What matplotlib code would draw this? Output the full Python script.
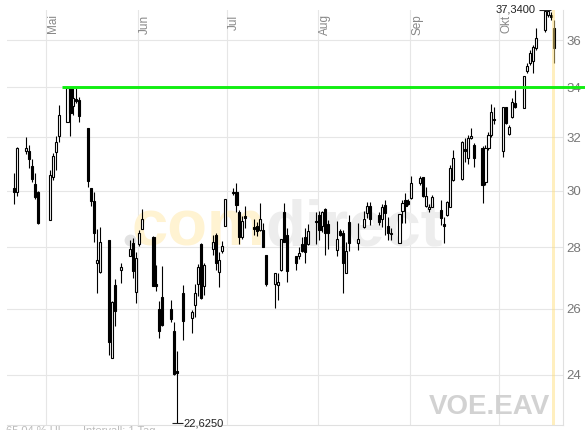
import matplotlib
matplotlib.use('Agg')
import matplotlib.pyplot as plt
import matplotlib.dates as mdates
from matplotlib.ticker import NullLocator
import pandas as pd

plt.rcParams['font.family'] = ['Liberation Sans', 'DejaVu Sans']

# trading days (days without a candle on the chart are skipped)
skip_days = ['2023-05-01', '2023-05-25', '2023-06-05', '2023-06-15', '2023-08-15']
days = pd.bdate_range('2023-04-20', '2023-10-19')
days = days[~days.isin(pd.to_datetime(skip_days))]

opens = [30.09, 29.96, 31.47, 31.47, 30.90, 30.24, 29.96,
         28.96, 30.49, 31.44, 32.06,
         32.58, 33.98, 33.24, 33.52, 33.48,
         32.36, 30.08, 29.61, 27.47, 27.17,
         28.25, 24.49, 26.75, 27.24,
         27.71, 28.14, 26.52, 28.11, 28.62,
         28.36, 26.78, 26.00, 26.37,
         26.00, 25.30, 24.10, 26.48,
         25.72, 26.12, 26.78, 28.11, 26.72,
         27.93, 28.43, 27.18, 27.87, 28.74,
         29.90, 29.96, 29.24, 28.36, 29.08,
         28.69, 28.74, 28.60, 28.60, 27.74,
         26.80, 26.75, 27.24, 29.24, 28.43,
         27.71, 27.71, 28.11, 28.36, 28.11,
         28.90, 29.12, 28.74, 29.32, 28.80,
         27.90, 28.58, 28.49, 27.15, 28.88,
         28.16, 28.69, 29.20, 29.45,
         29.12, 28.97, 29.47, 28.74, 28.46,
         28.15, 29.27, 29.65, 29.63, 29.72,
         30.27, 30.49, 29.45, 29.34, 29.42,
         29.30, 28.79, 29.12, 29.42, 30.39,
         30.42, 31.54, 31.20, 31.98, 31.71,
         31.60, 30.30, 31.60, 32.10, 32.70,
         31.47, 33.19, 32.13, 32.79, 33.35,
         33.17, 34.68, 35.01, 35.08, 35.65,
         36.44, 37.10, 37.10, 36.51]
highs = [30.65, 31.63, 32.00, 31.70, 31.15, 30.64, 29.99,
         30.76, 31.39, 32.03, 33.26,
         34.00, 34.00, 33.98, 33.98, 33.59,
         32.37, 30.10, 29.95, 28.63, 28.69,
         28.27, 26.24, 26.94, 27.46,
         28.25, 28.33, 27.84, 28.60, 29.32,
         28.38, 27.42, 26.24, 27.37,
         26.27, 25.58, 24.69, 26.75,
         25.96, 26.78, 27.45, 28.15, 27.46,
         28.43, 28.51, 27.85, 28.22, 29.70,
         30.08, 30.27, 29.30, 29.10, 29.44,
         28.97, 28.88, 29.56, 28.83, 27.76,
         27.15, 27.13, 28.30, 29.56, 28.67,
         27.72, 28.00, 28.36, 28.66, 28.80,
         29.24, 29.26, 29.27, 29.36, 28.94,
         28.92, 28.63, 28.60, 28.18, 29.12,
         28.83, 29.27, 29.59, 29.59,
         29.24, 29.53, 29.65, 29.06, 28.66,
         29.16, 29.65, 29.90, 29.68, 30.52,
         30.54, 30.50, 30.14, 29.53, 29.84,
         29.65, 29.06, 29.62, 30.94, 31.51,
         31.84, 31.98, 32.10, 32.36, 31.77,
         31.65, 31.70, 32.20, 33.32, 33.20,
         33.20, 33.20, 32.47, 33.56, 33.89,
         34.48, 35.01, 35.57, 35.79, 36.52,
         37.34, 37.33, 37.24, 36.88]
lows = [29.51, 29.80, 31.34, 30.83, 30.30, 29.69, 28.80,
        28.95, 30.39, 30.76, 31.83,
        32.58, 32.05, 32.88, 33.37, 32.58,
        30.14, 29.44, 28.19, 26.49, 27.14,
        24.57, 24.49, 25.46, 26.83,
        27.70, 26.97, 26.19, 28.04, 28.62,
        26.72, 26.56, 25.10, 25.45,
        25.59, 24.00, 22.625, 25.02,
        25.24, 25.75, 26.40, 26.30, 26.43,
        27.74, 27.24, 26.68, 27.80, 28.74,
        29.85, 29.24, 28.12, 28.30, 28.66,
        28.43, 28.40, 28.57, 28.00, 26.72,
        26.01, 26.27, 27.22, 28.18, 26.86,
        27.26, 27.62, 27.84, 27.46, 28.08,
        28.12, 28.25, 28.53, 27.74, 27.96,
        27.71, 28.40, 26.49, 27.14, 27.87,
        27.90, 28.67, 29.00, 28.76,
        28.76, 28.71, 28.43, 28.25, 28.25,
        28.14, 28.84, 28.85, 29.47, 29.69,
        30.20, 29.76, 29.40, 29.24, 29.40,
        28.76, 28.16, 29.08, 29.40, 30.36,
        30.40, 31.05, 30.98, 31.95, 30.88,
        29.56, 30.20, 31.50, 32.00, 32.50,
        31.24, 32.53, 32.10, 32.76, 33.16,
        33.15, 34.58, 34.94, 34.61, 35.57,
        36.37, 37.00, 36.88, 35.01]
closes = [29.95, 31.60, 31.57, 31.16, 30.41, 29.78, 28.85,
          30.57, 31.28, 31.83, 32.89,
          33.96, 32.97, 33.56, 33.45, 32.85,
          30.33, 29.63, 28.49, 27.57, 28.18,
          24.97, 26.22, 25.93, 27.35,
          27.93, 27.22, 27.65, 28.49, 28.97,
          26.73, 26.72, 25.31, 25.48,
          25.66, 24.02, 24.06, 25.61,
          25.89, 26.51, 27.33, 26.34, 27.40,
          28.19, 27.46, 27.57, 28.06, 29.68,
          29.95, 29.47, 28.36, 28.92, 29.02,
          28.64, 28.57, 28.97, 28.01, 26.78,
          27.15, 26.84, 28.28, 28.19, 27.22,
          27.46, 27.81, 27.87, 27.85, 28.58,
          28.86, 28.60, 29.24, 28.51, 28.51,
          28.28, 28.43, 27.46, 27.89, 28.16,
          28.28, 28.97, 29.45, 28.97,
          28.88, 29.42, 29.18, 28.49, 28.51,
          29.15, 29.56, 29.45, 29.51, 30.27,
          30.45, 29.80, 29.80, 29.42, 29.77,
          29.00, 28.74, 29.59, 30.82, 31.20,
          31.83, 31.48, 31.98, 32.06, 31.20,
          30.20, 31.60, 32.10, 33.01, 32.66,
          33.19, 32.56, 32.42, 33.41, 33.19,
          34.47, 34.89, 35.44, 35.72, 36.08,
          37.30, 37.30, 37.00, 35.65]

yticks = [24, 26, 28, 30, 32, 34, 36]
months = ['2023-05-01', '2023-06-01', '2023-07-01', '2023-08-01', '2023-09-01', '2023-10-01']
month_names = ['Mai', 'Jun', 'Jul', 'Aug', 'Sep', 'Okt']
resistance = 34.0
high_label = '37,3400'
low_label = '22,6250'

x = mdates.date2num(days.to_pydatetime()) + 0.35
mx = mdates.date2num(pd.to_datetime(months).to_pydatetime())
may1 = mx[0]

fig = plt.figure(figsize=(5.85, 4.3), dpi=100)
ax = fig.add_axes([7 / 585, 5 / 430, 556 / 585, 415.5 / 430])
ax.set_yscale('log')
ax.set_ylim(22.578, 37.36)
ax.set_xlim(may1 - 13.05, may1 + 174.5)

# grid, axes
ax.set_axisbelow(True)
ax.set_yticks(yticks)
ax.set_yticklabels([str(t) for t in yticks])
ax.yaxis.set_minor_locator(NullLocator())
ax.set_xticks(mx)
ax.set_xticklabels([])
ax.yaxis.tick_right()
ax.tick_params(axis='both', length=0)
ax.tick_params(axis='y', pad=2.5, labelsize=9.5, labelcolor='#777777')
ax.grid(True, color='#e6e6e6', lw=0.8)
for s in ['left', 'top']:
    ax.spines[s].set_visible(False)
for s in ['right', 'bottom']:
    ax.spines[s].set_color('#e0e0e0')
    ax.spines[s].set_linewidth(0.8)

for m, name in zip(mx, month_names):
    ax.text(m + 0.35, 0.988, name, rotation=90, ha='left', va='top',
            fontsize=8.5, color='#888888', transform=ax.get_xaxis_transform())

# watermark
ax.text(0.464, 0.433, 'com', transform=ax.transAxes, ha='right', va='baseline',
        fontsize=47, fontweight='bold', color='#fff3d2', zorder=0.6)
ax.text(0.464, 0.433, 'direct', transform=ax.transAxes, ha='left', va='baseline',
        fontsize=47, fontweight='bold', color='#ededed', zorder=0.6)
ax.plot([0.2212], [0.4452], 'o', ms=7.5, color='#e2e2e2', transform=ax.transAxes, zorder=0.6)
ax.text(0.9766, 0.0265, 'VOE.EAV', transform=ax.transAxes, ha='right', va='baseline',
        fontsize=20, fontweight='bold', color='#d2d2d2', zorder=0.6)

# candles
ax.vlines(x, lows, highs, color='black', lw=0.8, zorder=3)
bottoms = [min(o, c) for o, c in zip(opens, closes)]
heights = [abs(c - o) for o, c in zip(opens, closes)]
fills = ['white' if c >= o else 'black' for o, c in zip(opens, closes)]
ax.bar(x, heights, bottom=bottoms, width=0.72, color=fills, edgecolor='black',
       linewidth=0.8, zorder=3.5)

# current day highlight
ax.axvspan(x[-1] - 0.5, x[-1] + 0.5, color='#ffe080', alpha=0.5, lw=0, zorder=4)

# resistance line
ax.hlines(resistance, may1 + 5.4, may1 + 181.9, color='#11ee11', lw=2.1,
          clip_on=False, zorder=5)

# high / low markers
ih = highs.index(max(highs))
il = lows.index(min(lows))
ax.hlines(highs[ih], x[ih] - 2.0, x[ih] + 2.0, color='#222222', lw=0.8, zorder=5)
ax.text(x[ih] - 3.2, highs[ih], high_label, ha='right', va='center',
        fontsize=8, color='#222222')
ax.hlines(lows[il], x[il] - 1.9, x[il] + 1.9, color='#222222', lw=0.8, zorder=5, clip_on=False)
ax.text(x[il] + 2.0, lows[il], low_label, ha='left', va='center',
        fontsize=8, color='#222222', clip_on=False)

fig.text(6 / 585, 4.5 / 430, '65,04 % HL', ha='left', va='top', fontsize=8, color='#bbbbbb')
fig.text(83 / 585, 4.5 / 430, 'Intervall: 1 Tag', ha='left', va='top', fontsize=8, color='#bbbbbb')

fig.savefig('out.png', dpi=100)
